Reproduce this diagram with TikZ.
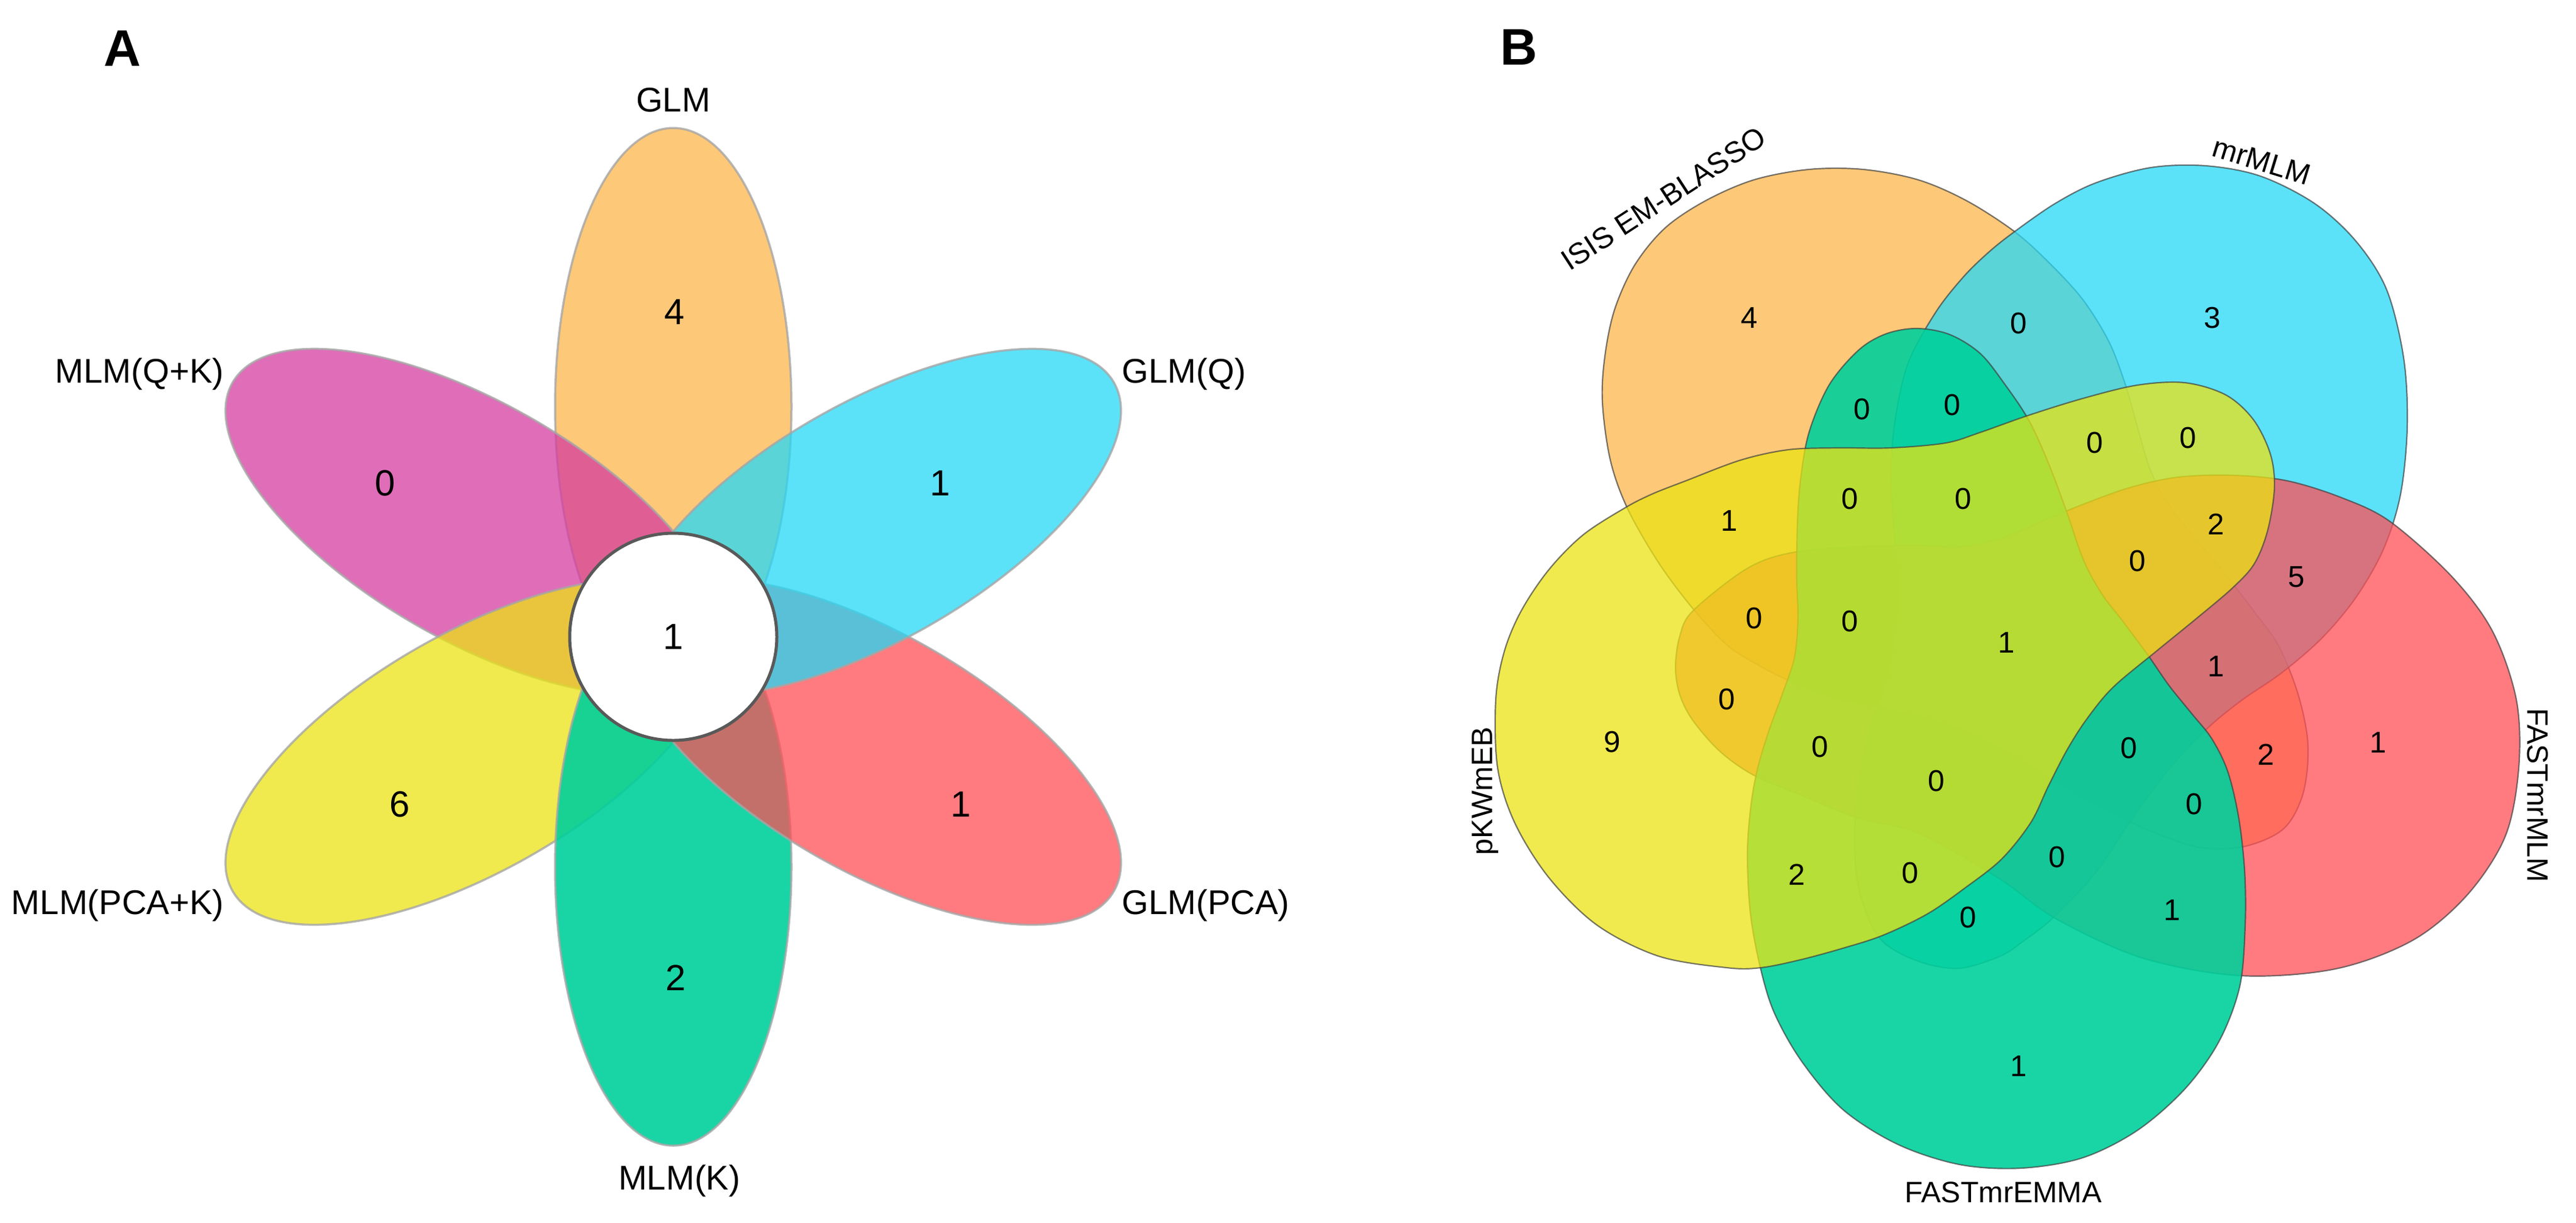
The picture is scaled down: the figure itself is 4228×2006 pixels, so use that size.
\documentclass[tikz,border=0pt]{standalone}
\usepackage{fontspec}
\setmainfont{Liberation Sans}
\begin{document}
\begin{tikzpicture}[x=0.1mm,y=-0.1mm,
  lblA/.style={font=\fontsize{16}{19}\selectfont, inner sep=0pt},
  numA/.style={font=\fontsize{17}{20}\selectfont, inner sep=0pt},
  lblB/.style={font=\fontsize{13.8}{16}\selectfont, inner sep=0pt},
  numB/.style={font=\fontsize{14}{17}\selectfont, inner sep=0pt},
  panellbl/.style={font=\bfseries\fontsize{24}{28}\selectfont, inner sep=0pt},
  petal/.style={draw=black!35, draw opacity=0.8, line width=0.35mm, fill opacity=0.75},
  petalG/.style={petal, fill opacity=0.9},
  setB/.style={draw=black!75, draw opacity=0.7, line width=0.22mm, fill opacity=0.75},
  setBG/.style={setB, fill opacity=0.9},
  smoothB/.style={smooth cycle, tension=0.55}
]
\definecolor{cOr}{RGB}{252,182,75}
\definecolor{cCy}{RGB}{36,216,246}
\definecolor{cRd}{RGB}{255,79,86}
\definecolor{cGr}{RGB}{0,208,155}
\definecolor{cYe}{RGB}{235,227,19}
\definecolor{cPk}{RGB}{214,60,160}
\useasboundingbox (0,0) rectangle (4228,2006);

% ---------------- Panel A ----------------
\node[panellbl] (pA) at (201,79) {A};
\draw[petal, fill=cOr, rotate around={90:(1105,667.5)}] (1105,667.5) ellipse [x radius=457.5, y radius=194];
\draw[petal, fill=cPk, rotate around={150:(778.1,856.25)}] (778.1,856.25) ellipse [x radius=457.5, y radius=194];
\draw[petal, fill=cYe, rotate around={210:(778.1,1233.75)}] (778.1,1233.75) ellipse [x radius=457.5, y radius=194];
\draw[petalG, fill=cGr, rotate around={270:(1105,1422.5)}] (1105,1422.5) ellipse [x radius=457.5, y radius=194];
\draw[petal, fill=cRd, rotate around={330:(1431.9,1233.75)}] (1431.9,1233.75) ellipse [x radius=457.5, y radius=194];
\draw[petal, fill=cCy, rotate around={30:(1431.9,856.25)}] (1431.9,856.25) ellipse [x radius=457.5, y radius=194];
\node[circle, fill=white, draw=black!65, line width=0.5mm, minimum size=34mm, inner sep=0pt, numA] (ctrA) at (1105,1045) {1};

\node[lblA] (lGLM) at (1105,164) {GLM};
\node[lblA, anchor=east] (lMQK) at (368,614) {MLM(Q+K)};
\node[lblA, anchor=west] (lGQ) at (1841,614) {GLM(Q)};
\node[lblA, anchor=east] (lMPK) at (368,1486) {MLM(PCA+K)};
\node[lblA, anchor=west] (lGP) at (1841,1486) {GLM(PCA)};
\node[lblA] (lMK) at (1115,1938) {MLM(K)};

\node[numA] (nA1) at (1107,512) {4};
\node[numA] (nA2) at (632,793) {0};
\node[numA] (nA3) at (1543,793) {1};
\node[numA] (nA4) at (656,1320) {6};
\node[numA] (nA5) at (1577,1320) {1};
\node[numA] (nA6) at (1109,1605) {2};

% ---------------- Panel B ----------------
\node[panellbl] (pB) at (2493,77) {B};
% ISIS EM-BLASSO
\draw[setB, fill=cOr] plot[smoothB] coordinates {
 (2969,278) (3058,278) (3148,295) (3227,329) (3305,379) (3362,430) (3418,491) (3461,560)
 (3488,630) (3508,700) (3528,768) (3553,818) (3590,868) (3652,942) (3700,1004) (3740,1060)
 (3772,1140) (3788,1222) (3780,1302) (3748,1360) (3684,1389) (3612,1391) (3545,1370) (3482,1342)
 (3408,1302) (3320,1248) (3244,1206) (3165,1178) (3085,1160) (3011,1146) (2939,1118) (2887,1092)
 (2834,1058) (2778,998) (2722,923) (2671,834) (2643,755) (2630,660) (2634,585) (2650,508)
 (2683,435) (2733,374) (2800,329) (2879,295)};
% mrMLM
\draw[setB, fill=cCy] plot[smoothB] coordinates {
 (3530,275) (3620,272) (3710,289) (3799,334) (3867,396) (3917,475) (3945,587) (3951,699)
 (3940,811) (3912,901) (3867,980) (3811,1047) (3745,1104) (3678,1150) (3621,1197) (3560,1262)
 (3498,1345) (3441,1430) (3371,1505) (3320,1545) (3283,1569) (3216,1589) (3150,1578) (3090,1545)
 (3060,1490) (3046,1428) (3045,1339) (3055,1260) (3072,1185) (3095,1120) (3110,1036) (3115,968)
 (3109,878) (3104,789) (3109,699) (3131,598) (3176,514) (3222,455) (3265,413) (3308,379)
 (3373,334) (3440,300)};
% FASTmrMLM
\draw[setB, fill=cRd] plot[smoothB] coordinates {
 (2946,906) (3058,897) (3148,895) (3216,897) (3283,884) (3350,856) (3418,828) (3496,800)
 (3575,783) (3665,780) (3754,789) (3844,817) (3923,856) (4024,946) (4091,1036) (4130,1148)
 (4134,1260) (4112,1372) (4050,1468) (3960,1543) (3833,1590) (3676,1601) (3516,1572) (3375,1508)
 (3280,1441) (3150,1368) (3043,1340) (2959,1306) (2880,1273) (2824,1234) (2779,1183) (2757,1140)
 (2750,1095) (2757,1044) (2779,1002) (2869,932)};
% FASTmrEMMA
\draw[setBG, fill=cGr] plot[smoothB] coordinates {
 (3317,1917) (3216,1911) (3115,1878) (3025,1821) (2958,1743) (2913,1664) (2890,1591) (2873,1500)
 (2868,1400) (2874,1320) (2885,1260) (2903,1200) (2925,1140) (2945,1080) (2951,1016) (2949,950)
 (2950,860) (2955,789) (2969,710) (3002,632) (3050,575) (3095,548) (3146,539) (3200,549)
 (3250,580) (3290,630) (3330,690) (3362,760) (3392,840) (3420,920) (3450,975) (3483,1018)
 (3526,1076) (3560,1125) (3598,1172) (3630,1212) (3656,1265) (3674,1340) (3684,1428) (3685,1518)
 (3676,1619) (3642,1709) (3586,1787) (3508,1855) (3418,1900)};
% pKWmEB
\draw[setB, fill=cYe] plot[smoothB] coordinates {
 (2455,1148) (2469,1069) (2497,1002) (2542,935) (2598,878) (2666,834) (2711,811) (2767,789)
 (2857,755) (2935,738) (3014,735) (3103,735) (3193,727) (3249,710) (3328,682) (3418,654)
 (3508,632) (3586,628) (3653,648) (3698,688) (3726,744) (3733,800) (3722,870) (3700,925)
 (3664,965) (3605,1015) (3540,1068) (3468,1128) (3425,1180) (3393,1230) (3362,1290) (3333,1350)
 (3285,1410) (3224,1458) (3163,1500) (3090,1535) (3025,1556) (2955,1575) (2890,1588) (2834,1588)
 (2722,1569) (2621,1518) (2542,1440) (2486,1350) (2458,1260)};

\node[lblB, rotate=33] (lISIS) at (2730,326) {ISIS EM-BLASSO};
\node[lblB, rotate=-17] (lmr) at (3712,264) {mrMLM};
\node[lblB, rotate=-90] (lFM) at (4165,1305) {FASTmrMLM};
\node[lblB, rotate=90] (lpK) at (2438,1298) {pKWmEB};
\node[lblB] (lFE) at (3288,1957) {FASTmrEMMA};

\node[numB] (b01) at (2871,522) {4};
\node[numB] (b02) at (3313,531) {0};
\node[numB] (b03) at (3631,522) {3};
\node[numB] (b04) at (3056,672) {0};
\node[numB] (b05) at (3204,665) {0};
\node[numB] (b06) at (3438,727) {0};
\node[numB] (b07) at (3591,719) {0};
\node[numB] (b08) at (2838,855) {1};
\node[numB] (b09) at (3036,819) {0};
\node[numB] (b10) at (3222,819) {0};
\node[numB] (b11) at (3637,860) {2};
\node[numB] (b12) at (3508,921) {0};
\node[numB] (b13) at (3769,947) {5};
\node[numB] (b14) at (2879,1015) {0};
\node[numB] (b15) at (3036,1020) {0};
\node[numB] (b16) at (3293,1055) {1};
\node[numB] (b17) at (3637,1094) {1};
\node[numB] (b18) at (2834,1148) {0};
\node[numB] (b19) at (2646,1218) {9};
\node[numB] (b20) at (2987,1226) {0};
\node[numB] (b21) at (3178,1282) {0};
\node[numB] (b22) at (3494,1228) {0};
\node[numB] (b23) at (3719,1238) {2};
\node[numB] (b24) at (3903,1219) {1};
\node[numB] (b25) at (3601,1320) {0};
\node[numB] (b26) at (3376,1407) {0};
\node[numB] (b27) at (2949,1435) {2};
\node[numB] (b28) at (3135,1433) {0};
\node[numB] (b29) at (3230,1506) {0};
\node[numB] (b30) at (3565,1494) {1};
\node[numB] (b31) at (3313,1750) {1};
\end{tikzpicture}
\end{document}
